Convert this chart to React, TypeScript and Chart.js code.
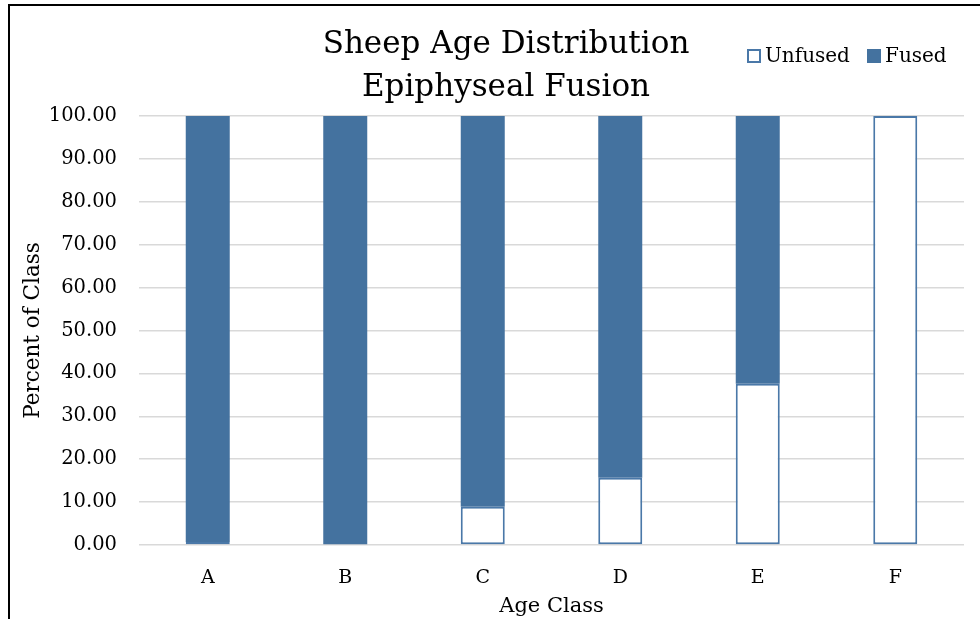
import React, { useEffect, useRef } from 'react';
import { Chart, registerables } from 'chart.js';
Chart.register(...registerables);

const categories = ['A', 'B', 'C', 'D', 'E', 'F'];
const unfusedValues = [0.7, 0, 8.9, 15.7, 37.6, 100];
const fusedValues = [99.3, 100, 91.1, 84.3, 62.4, 0];
const titleLines = ['Sheep Age Distribution', 'Epiphyseal Fusion'];
const seriesNames = ['Unfused', 'Fused'];
const yAxisTitle = 'Percent of Class';
const xAxisTitle = 'Age Class';

const FONT = "'DejaVu Serif', serif";
const BLUE = '#44729f';
const BORDER_BLUE = '#4a78a8';

const headerPlugin = {
  id: 'header',
  afterDraw(chart: any) {
    const ctx = chart.ctx;
    ctx.save();
    ctx.fillStyle = '#000';
    ctx.textAlign = 'center';
    ctx.textBaseline = 'middle';
    ctx.font = `31px ${FONT}`;
    ctx.fillText(titleLines[0], 496, 39);
    ctx.fillText(titleLines[1], 496, 82);

    // legend
    const ds = chart.data.datasets;
    const items = [
      { x: 737, label: ds[0].label, fill: ds[0].backgroundColor, stroke: ds[0].borderColor },
      { x: 857, label: ds[1].label, fill: ds[1].backgroundColor, stroke: ds[1].backgroundColor },
    ];
    ctx.font = `20px ${FONT}`;
    ctx.textAlign = 'left';
    for (const it of items) {
      ctx.fillStyle = it.fill;
      ctx.fillRect(it.x, 43, 14, 14);
      ctx.strokeStyle = it.stroke;
      ctx.lineWidth = 2;
      ctx.strokeRect(it.x + 1, 44, 12, 12);
      ctx.fillStyle = '#000';
      ctx.fillText(it.label, it.x + 18, 51);
    }
    ctx.restore();
  },
};

export default function App() {
  const ref = useRef<HTMLCanvasElement>(null);
  useEffect(() => {
    if (!ref.current) return;
    const chart = new Chart(ref.current, {
      type: 'bar',
      data: {
        labels: categories,
        datasets: [
          {
            label: seriesNames[0],
            data: unfusedValues,
            backgroundColor: '#ffffff',
            borderColor: BORDER_BLUE,
            borderWidth: 2,
            borderSkipped: false,
          },
          {
            label: seriesNames[1],
            data: fusedValues,
            backgroundColor: BLUE,
            borderColor: '#8fabcb',
            borderWidth: 0,
          },
        ],
      },
      options: {
        animation: false,
        responsive: false,
        layout: { padding: { top: 110, right: 16, left: 0, bottom: 0 } },
        plugins: {
          legend: { display: false },
          title: { display: false },
          tooltip: { enabled: false },
        },
        datasets: { bar: { barPercentage: 0.32, categoryPercentage: 1 } },
        scales: {
          x: {
            stacked: true,
            grid: { display: false, drawTicks: false },
            border: { display: false },
            ticks: { color: '#000', font: { family: FONT, size: 19 }, padding: 22 },
            title: { display: true, text: xAxisTitle, color: '#000', font: { family: FONT, size: 21 }, padding: { top: 0, bottom: 0 } },
            afterFit(scale: any) { scale.height = 74; },
          },
          y: {
            stacked: true,
            min: 0,
            max: 100,
            ticks: {
              stepSize: 10,
              color: '#000',
              font: { family: FONT, size: 19.5 },
              padding: 22,
              callback: (v: any) => Number(v).toFixed(2),
            },
            grid: { color: '#d9d9d9', lineWidth: 1.5, drawTicks: false },
            border: { display: false },
            title: { display: true, text: yAxisTitle, color: '#000', font: { family: FONT, size: 21.5 }, padding: { top: 11, bottom: 0 } },
            afterFit(scale: any) { scale.width = 129; },
          },
        },
      },
      plugins: [headerPlugin],
    });
    return () => chart.destroy();
  }, []);
  return (
    <div
      style={{
        position: 'fixed',
        left: 8,
        top: 4,
        width: 972,
        height: 615,
        borderTop: '2px solid #000',
        borderLeft: '2px solid #000',
        background: '#fff',
      }}
    >
      <canvas ref={ref} width={970} height={613} style={{ display: 'block' }} />
    </div>
  );
}
